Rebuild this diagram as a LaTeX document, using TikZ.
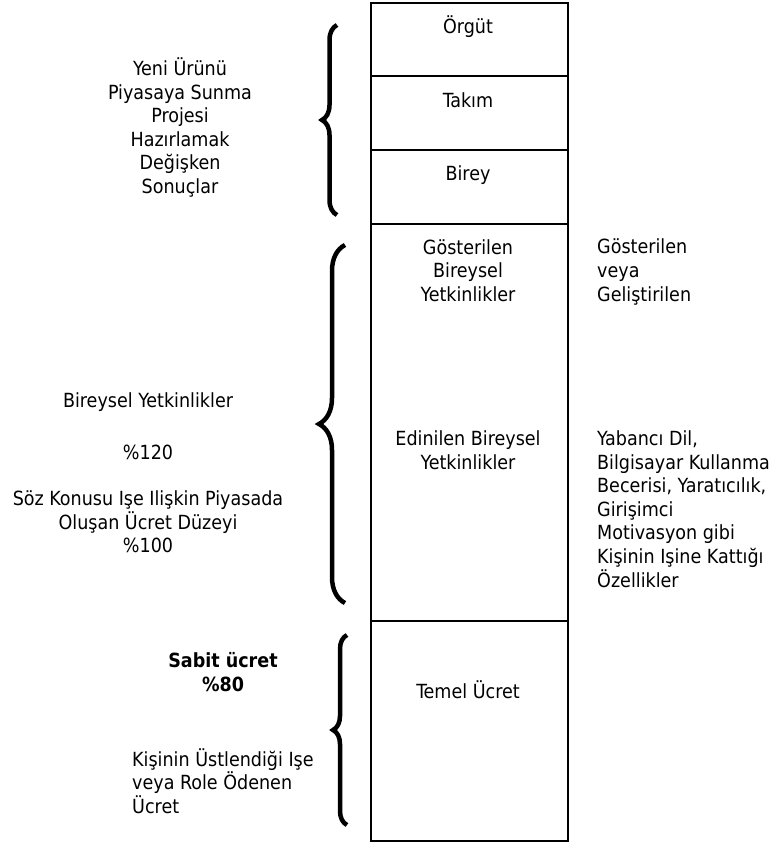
\documentclass[tikz,border=0pt]{standalone}
\usepackage{fontspec}
\setmainfont{DejaVu Sans Condensed}
\usetikzlibrary{decorations.pathreplacing}
\begin{document}
\begin{tikzpicture}[x=1pt,y=-1pt,
 txt/.style={inner sep=0pt, font=\fontsize{19.5}{23.6}\selectfont, align=center},
 ltxt/.style={inner sep=0pt, font=\fontsize{19.5}{23.6}\selectfont, align=left, anchor=west},
 cell/.style={draw, line width=1.5pt, minimum width=197pt, anchor=north west, inner sep=0pt},
 curly/.style={decorate, decoration={brace, amplitude=#1}, line width=4.5pt}]
\useasboundingbox (0,0) rectangle (770,844);
% column of cells
\node[cell, minimum height=73pt]  (c1) at (370,2) {};
\node[cell, minimum height=74pt]  (c2) at (370,75) {};
\node[cell, minimum height=74pt]  (c3) at (370,149) {};
\node[cell, minimum height=397pt] (c4) at (370,223) {};
\node[cell, minimum height=220pt] (c5) at (370,620) {};
% cell texts
\node[txt] (t1) at (468,27) {Örgüt};
\node[txt] (t2) at (468,100) {Takım};
\node[txt] (t3) at (468,175) {Birey};
\node[txt] (t4) at (468,270.5) {Gösterilen\\Bireysel\\Yetkinlikler};
\node[txt] (t5) at (468,450.5) {Edinilen Bireysel\\Yetkinlikler};
\node[txt] (t6) at (468,690) {Temel Ücret};
% left texts
\node[txt] (l1) at (180,127.5) {Yeni Ürünü\\Piyasaya Sunma\\Projesi\\Hazırlamak\\Değişken\\Sonuçlar};
\node[txt] (l2) at (148,402) {Bireysel Yetkinlikler};
\node[txt] (l3) at (148,452) {\%120};
\node[txt] (l4) at (148,522) {Söz Konusu Işe Ilişkin Piyasada\\Oluşan Ücret Düzeyi\\\%100};
\node[txt, font=\fontsize{19.5}{23.6}\selectfont\bfseries] (l5) at (223,672) {Sabit ücret\\\%80};
\node[ltxt] (l6) at (132,781) {Kişinin Üstlendiği Işe\\veya Role Ödenen\\Ücret};
% right texts
\node[ltxt] (r1) at (597,272) {Gösterilen\\veya\\Geliştirilen};
\node[ltxt] (r2) at (597,509) {Yabancı Dil,\\Bilgisayar Kullanma\\Becerisi, Yaratıcılık,\\Girişimci\\Motivasyon gibi\\Kişinin Işine Kattığı\\Özellikler};
% braces
\coordinate (b1s) at (337,215); \coordinate (b1e) at (337,25);
\coordinate (b2s) at (345,603); \coordinate (b2e) at (345,245);
\coordinate (b3s) at (347,825); \coordinate (b3e) at (347,635);
\draw[curly=15pt] (b1s) -- (b1e);
\draw[curly=26pt] (b2s) -- (b2e);
\draw[curly=14pt] (b3s) -- (b3e);
\end{tikzpicture}
\end{document}
